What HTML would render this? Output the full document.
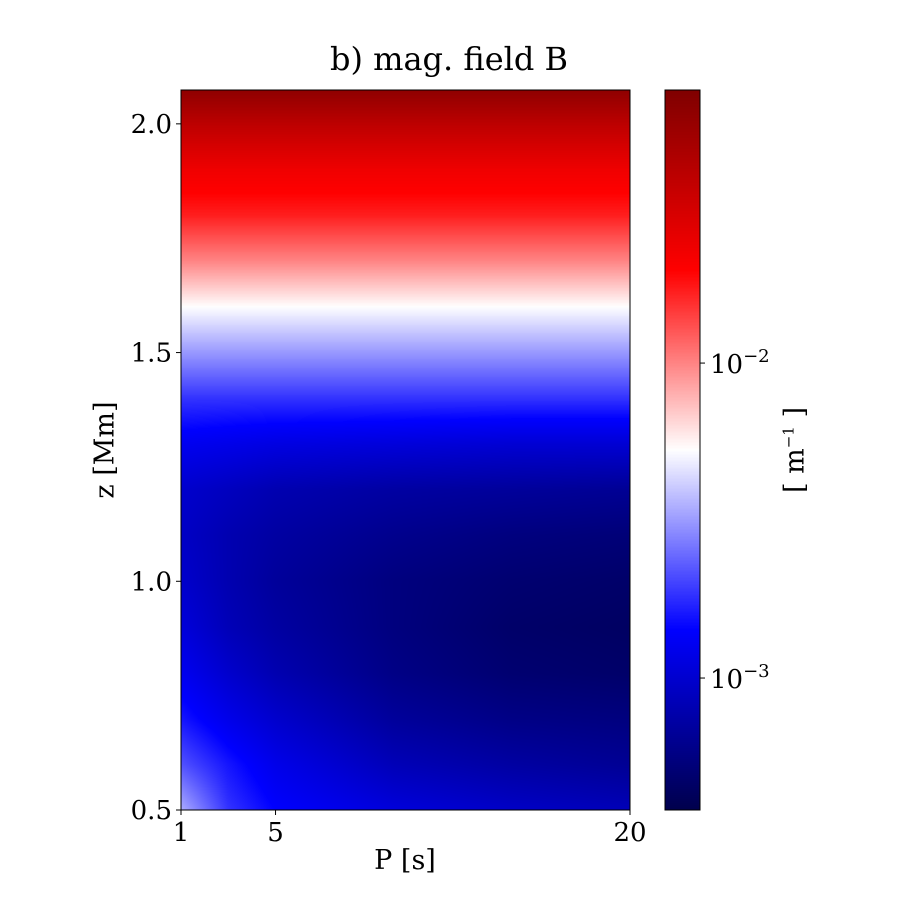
<!DOCTYPE html>
<html><head><meta charset="utf-8">
<style>
body{margin:0;background:#fff;}
#wrap{position:relative;width:900px;height:900px;font-family:"DejaVu Serif","Liberation Serif",serif;color:#000;}
canvas{position:absolute;}
.t{position:absolute;white-space:nowrap;}
</style></head>
<body>
<div id="wrap">
<div class="t" style="left:449px;top:40px;font-size:32px;transform:translateX(-50%);">b) mag. field B</div>
<canvas id="hm" width="449" height="720" style="left:181px;top:90px;"></canvas>
<canvas id="cb" width="35" height="720" style="left:665px;top:90px;"></canvas>
<svg id="ax" width="900" height="900" style="position:absolute;left:0;top:0"></svg>
<div class="t" style="left:405px;top:845px;font-size:27px;transform:translateX(-50%);">P [s]</div>
<div class="t" style="left:105px;top:450px;font-size:27px;transform:translate(-50%,-50%) rotate(-90deg);">z [Mm]</div>
<div class="t" style="left:795px;top:450px;font-size:27px;transform:translate(-50%,-50%) rotate(-90deg);">[ m<sup style="font-size:15px">−1</sup> ]</div>
</div>
<script>
const pVals=[1,3,5,10,15,20];
const zVals=[0.5,0.6,0.7,0.8,0.9,1.0,1.1,1.2,1.3,1.4,1.5,1.6,1.7,1.8,1.9,2.0,2.074];
const logB=[
[-2.459,-2.733,-2.848,-2.962,-3.030,-3.076],
[-2.665,-2.802,-2.916,-3.076,-3.145,-3.190],
[-2.802,-2.916,-3.008,-3.168,-3.236,-3.259],
[-2.893,-3.008,-3.099,-3.236,-3.305,-3.328],
[-2.962,-3.076,-3.145,-3.259,-3.328,-3.350],
[-3.008,-3.099,-3.168,-3.259,-3.305,-3.328],
[-3.030,-3.099,-3.145,-3.213,-3.259,-3.282],
[-3.008,-3.053,-3.099,-3.145,-3.168,-3.190],
[-2.893,-2.916,-2.939,-2.962,-2.985,-2.985],
[-2.733,-2.733,-2.733,-2.733,-2.733,-2.733],
[-2.505,-2.505,-2.505,-2.505,-2.505,-2.505],
[-2.276,-2.276,-2.276,-2.276,-2.276,-2.276],
[-2.002,-2.002,-2.002,-2.002,-2.002,-2.002],
[-1.773,-1.773,-1.773,-1.773,-1.773,-1.773],
[-1.636,-1.636,-1.636,-1.636,-1.636,-1.636],
[-1.407,-1.407,-1.407,-1.407,-1.407,-1.407],
[-1.202,-1.202,-1.202,-1.202,-1.202,-1.202]];
const xTicks=[1,5,20];
const yTicks=[0.5,1.0,1.5,2.0];
const cbTicks=[-2,-3];
const cMin=-3.419,cMax=-1.133;
const X0=181,X1=630,Y0=90,Y1=810,zMin=0.5,zMax=2.074,pMin=1,pMax=20;
const xS=p=>X0+(p-pMin)/(pMax-pMin)*(X1-X0);
const yS=z=>Y1-(z-zMin)/(zMax-zMin)*(Y1-Y0);
const cbY=l=>Y1-(l-cMin)/(cMax-cMin)*(Y1-Y0);
function cmap(f){f=Math.max(0,Math.min(1,f));
const st=[[0,0,0,.3],[.25,0,0,1],[.5,1,1,1],[.75,1,0,0],[1,.5,0,0]];
for(let i=0;i<4;i++){const a=st[i],b=st[i+1];if(f<=b[0]){const t=(f-a[0])/(b[0]-a[0]);return [0,1,2].map(k=>Math.round(255*(a[k+1]+t*(b[k+1]-a[k+1]))));}}return [128,0,0];}
function seg(arr,v){let i=0;while(i<arr.length-2&&v>arr[i+1])i++;let t=(v-arr[i])/(arr[i+1]-arr[i]);return [i,Math.max(0,Math.min(1,t))];}
const hm=document.getElementById('hm'),hc=hm.getContext('2d'),img=hc.createImageData(449,720);
for(let py=0;py<720;py++){const z=zMax-(py+.5)/720*(zMax-zMin);const [zi,zt]=seg(zVals,z);
for(let px=0;px<449;px++){const p=pMin+(px+.5)/449*(pMax-pMin);const [pi,pt]=seg(pVals,p);
const v=(1-zt)*((1-pt)*logB[zi][pi]+pt*logB[zi][pi+1])+zt*((1-pt)*logB[zi+1][pi]+pt*logB[zi+1][pi+1]);
const c=cmap((v-cMin)/(cMax-cMin));const o=(py*449+px)*4;img.data[o]=c[0];img.data[o+1]=c[1];img.data[o+2]=c[2];img.data[o+3]=255;}}
hc.putImageData(img,0,0);
const cb=document.getElementById('cb'),cc=cb.getContext('2d');
for(let py=0;py<720;py++){const c=cmap(1-(py+.5)/720);cc.fillStyle=`rgb(${c})`;cc.fillRect(0,py,35,1);}
const svg=document.getElementById('ax');const NS='http://www.w3.org/2000/svg';
function el(t,a){const e=document.createElementNS(NS,t);for(const k in a)e.setAttribute(k,a[k]);svg.appendChild(e);return e;}
let r=el('rect',{x:X0,y:Y0,width:X1-X0,height:Y1-Y0,fill:'none',stroke:'#000','stroke-width':1});


r=el('rect',{x:665,y:Y0,width:35,height:Y1-Y0,fill:'none',stroke:'#000','stroke-width':1});


xTicks.forEach(p=>{const x=xS(p);el('line',{x1:x,x2:x,y1:Y1,y2:Y1+5,stroke:'#000'});
const t=el('text',{x:x,y:Y1+31,'text-anchor':'middle','font-size':26,'font-family':'DejaVu Serif, serif'});t.textContent=p;

});
yTicks.forEach(z=>{const y=yS(z);el('line',{x1:X0-5,x2:X0,y1:y,y2:y,stroke:'#000'});
const t=el('text',{x:X0-9,y:y+9,'text-anchor':'end','font-size':26,'font-family':'DejaVu Serif, serif'});t.textContent=z.toFixed(1);

});
cbTicks.forEach(l=>{const y=cbY(l);el('line',{x1:700,x2:705,y1:y,y2:y,stroke:'#000'});
const t=el('text',{x:710,y:y+10,'font-size':26,'font-family':'DejaVu Serif, serif'});t.innerHTML='10<tspan dy="-11" font-size="18">−'+(-l)+'</tspan>';

});
</script>
</body></html>
